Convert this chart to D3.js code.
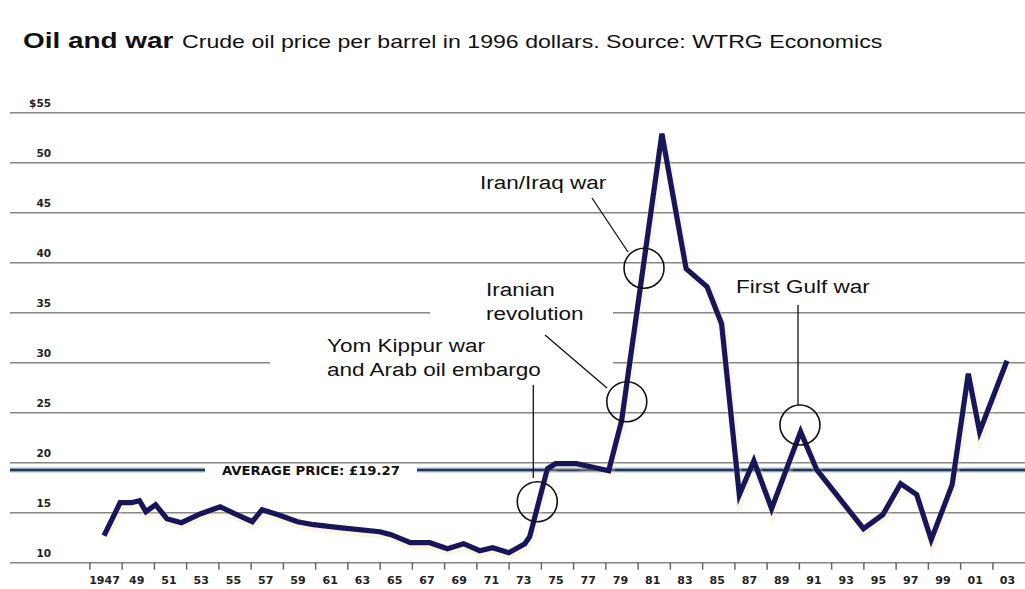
<!DOCTYPE html>
<html><head><meta charset="utf-8">
<script src="https://cdn.jsdelivr.net/npm/d3@7/dist/d3.min.js"></script>
<style>
body{margin:0;background:#fff;}
svg{display:block;}
</style>
</head><body>
<svg id="c" width="1025" height="589"></svg>
<script>
// ---------------- data ----------------
const years  = [1947.0,1948.0,1948.7,1949.2,1949.6,1950.2,1950.9,1951.8,1953.0,1954.2,1955.1,1956.2,1956.8,1957.8,1959.0,1960.0,1961.6,1964.1,1964.8,1966.0,1967.2,1968.3,1969.3,1970.3,1971.1,1972.1,1973.1,1973.4,1974.5,1975.0,1976.3,1978.3,1979.1,1981.6,1983.1,1984.4,1985.3,1986.4,1987.3,1988.4,1990.2,1991.2,1994.1,1995.3,1996.4,1997.4,1998.3,1999.6,2000.6,2001.3,2003.0];
const prices = [12.7,16.0,16.0,16.2,15.1,15.8,14.4,14.0,14.9,15.6,14.9,14.1,15.3,14.8,14.1,13.8,13.5,13.1,12.8,12.0,12.0,11.4,11.9,11.2,11.5,11.0,11.9,12.6,19.4,19.9,19.9,19.2,24.2,52.9,39.4,37.6,33.9,16.8,20.2,15.4,23.1,19.3,13.4,14.8,17.9,16.8,12.3,17.8,28.9,23.1,30.2];

const yTicks      = [10,15,20,25,30,35,40,45,50,55];
const yTickLabels = ["10","15","20","25","30","35","40","45","50","$55"];
const xTickYears  = [1946,1948,1950,1952,1954,1956,1958,1960,1962,1964,1966,1968,1970,1972,1974,1976,1978,1980,1982,1984,1986,1988,1990,1992,1994,1996,1998,2000,2002];
const xLabelYears = [1947,1949,1951,1953,1955,1957,1959,1961,1963,1965,1967,1969,1971,1973,1975,1977,1979,1981,1983,1985,1987,1989,1991,1993,1995,1997,1999,2001,2003];
const xLabelText  = ["1947","49","51","53","55","57","59","61","63","65","67","69","71","73","75","77","79","81","83","85","87","89","91","93","95","97","99","01","03"];

const averagePrice = 19.27;
const averageLabel = "AVERAGE PRICE: £19.27";

const eventNames  = ["Yom Kippur war|and Arab oil embargo","Iranian|revolution","Iran/Iraq war","First Gulf war"];
const eventYears  = [1973.87,1979.42,1980.49,1990.16];
const eventValues = [16.1,26.1,39.45,23.77];

const titleText    = "Oil and war";
const subtitleText = "Crude oil price per barrel in 1996 dollars. Source: WTRG Economics";

// ---------------- layout ----------------
const gridLeft = 10, gridRight = 1025;
const gridGaps = {35:[430,613], 30:[270,613]};
const avgGap = [205,417];
const stretch = 1.25;

const svg = d3.select("#c");
const x = d3.scaleLinear().domain([1947,2003]).range([104,1007]);
const y = d3.scaleLinear().domain([10,55]).range([562.7,112.7]);

// gridlines
const grid = svg.append("g");
yTicks.forEach(v=>{
  const segs = gridGaps[v] ? [[gridLeft,gridGaps[v][0]],[gridGaps[v][1],gridRight]] : [[gridLeft,gridRight]];
  segs.forEach(s=>{
    grid.append("line").attr("x1",s[0]).attr("x2",s[1])
      .attr("y1",y(v)).attr("y2",y(v))
      .attr("stroke","#858585").attr("stroke-width",1.5);
  });
});

// y labels (axis)
const yAxis = d3.axisLeft(y).tickValues(yTicks).tickFormat((d,i)=>yTickLabels[i]).tickSize(0).tickPadding(0);
const yg = svg.append("g").attr("transform","translate(51,-9.5)").call(yAxis);
yg.select(".domain").remove();
yg.selectAll("text").attr("font-family","DejaVu Sans").attr("font-weight","bold")
  .attr("font-size","10.5px").attr("fill","#222");

// x ticks
const xTickAxis = d3.axisBottom(x).tickValues(xTickYears).tickSize(7).tickFormat("");
const xt = svg.append("g").attr("transform",`translate(1.5,${y(10)})`).call(xTickAxis);
xt.select(".domain").remove();
xt.selectAll("line").attr("stroke","#666").attr("stroke-width",1.5);

// x labels
const xLabAxis = d3.axisBottom(x).tickValues(xLabelYears).tickFormat((d,i)=>xLabelText[i]).tickSize(0).tickPadding(13.5);
const xl = svg.append("g").attr("transform",`translate(0,${y(10)})`).call(xLabAxis);
xl.select(".domain").remove();
xl.selectAll("text").attr("font-family","DejaVu Sans").attr("font-weight","bold")
  .attr("font-size","11px").attr("fill","#222");

// average line
const ay = y(averagePrice);
[[gridLeft,avgGap[0]],[avgGap[1],gridRight]].forEach(s=>{
  svg.append("line").attr("x1",s[0]).attr("x2",s[1]).attr("y1",ay).attr("y2",ay)
    .attr("stroke","#b3c2d6").attr("stroke-width",5);
  svg.append("line").attr("x1",s[0]).attr("x2",s[1]).attr("y1",ay).attr("y2",ay)
    .attr("stroke","#22375c").attr("stroke-width",2.6);
});
svg.append("text").attr("x",(avgGap[0]+avgGap[1])/2).attr("y",ay+4.5)
  .attr("text-anchor","middle").attr("font-family","DejaVu Sans").attr("font-weight","bold")
  .attr("font-size","11.5px").attr("fill","#111")
  .attr("textLength",178).attr("lengthAdjust","spacingAndGlyphs")
  .text(averageLabel);

// price line
const data = years.map((yr,i)=>({yr, v:prices[i]}));
const line = d3.line().x(d=>x(d.yr)).y(d=>y(d.v));
svg.append("path").datum(data).attr("d",line)
  .attr("fill","none").attr("stroke","#f1de9f").attr("stroke-width",9)
  .attr("stroke-opacity",0.3).attr("transform","translate(1,2)");
svg.append("path").datum(data).attr("d",line)
  .attr("fill","none").attr("stroke","#16165a").attr("stroke-width",5.2)
  .attr("stroke-linejoin","miter");

// event circles
eventYears.forEach((yr,i)=>{
  svg.append("circle").attr("cx",x(yr)).attr("cy",y(eventValues[i])).attr("r",20)
    .attr("fill","none").attr("stroke","#111").attr("stroke-width",1.6);
});

// pointer lines (layout)
const pointers = [[533.3,385,533.3,478],[545,335,607,388],[592,198,628,252],[798,305,798,405]];
pointers.forEach(p=>{
  svg.append("line").attr("x1",p[0]).attr("y1",p[1]).attr("x2",p[2]).attr("y2",p[3])
    .attr("stroke","#111").attr("stroke-width",1.3);
});

// stretched text helper
function stext(str, px, py, size, weight, sx){
  return svg.append("text").attr("transform",`translate(${px},${py}) scale(${sx||stretch},1)`)
    .attr("font-family","Liberation Sans, Arial, sans-serif").attr("font-size",size+"px")
    .attr("font-weight",weight||"normal").attr("fill","#111").text(str);
}

// event labels
const labelPos = [[327,352],[486,296],[480,189],[736,293]];
eventNames.forEach((n,i)=>{
  n.split("|").forEach((ln,j)=>{
    stext(ln, labelPos[i][0], labelPos[i][1]+j*24, 18);
  });
});

// title
stext(titleText, 23, 48, 22, "bold", 1.27);
stext(subtitleText, 182, 48, 18.5);
</script>
</body></html>
